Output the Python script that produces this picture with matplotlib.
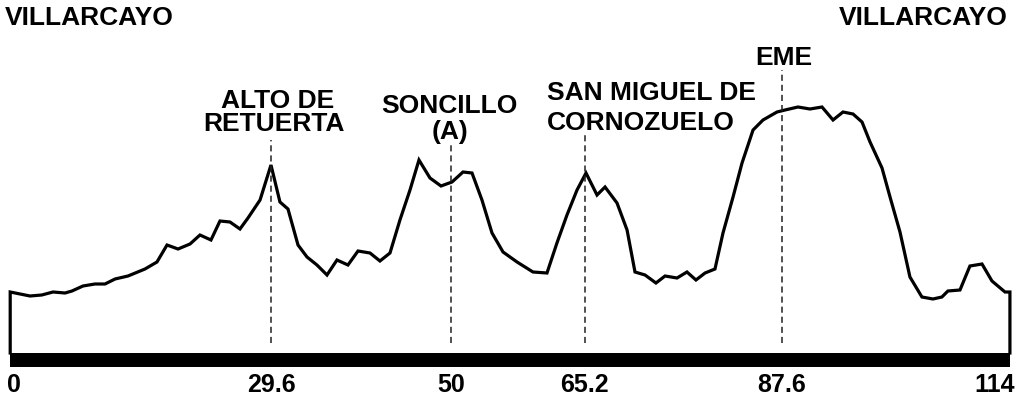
import matplotlib
matplotlib.use("Agg")
import matplotlib.pyplot as plt

# perfil: distancia (km) y altura relativa sobre la base
distancia = [0.0, 2.25, 3.58, 4.86, 6.22, 7.01, 8.26, 9.62, 10.76, 11.90, 13.37,
             15.30, 16.66, 17.80, 19.05, 20.41, 21.54, 22.79, 23.81, 24.95, 26.08,
             26.99, 28.36, 29.6, 30.62, 31.53, 32.67, 33.69, 34.82, 35.96, 37.09,
             38.34, 39.48, 40.84, 41.97, 43.11, 44.24, 45.38, 46.40, 47.65, 48.90,
             50.15, 51.40, 52.42, 53.55, 54.69, 55.94, 57.53, 59.34, 60.93, 62.06,
             63.20, 64.34, 65.36, 66.61, 67.52, 68.88, 70.02, 70.92, 72.06, 73.30,
             74.33, 75.69, 76.82, 77.84, 78.87, 80.00, 80.91, 82.05, 83.07, 84.32,
             85.45, 87.04, 87.95, 89.42, 90.78, 92.15, 93.40, 94.53, 95.67, 96.69,
             97.60, 98.96, 99.87, 101.0, 102.13, 103.49, 104.74, 105.76, 106.44,
             107.81, 108.94, 110.31, 111.44, 112.92, 113.48]
altura = [61, 57, 58, 61, 60, 62, 67, 69, 69, 74, 77,
          84, 91, 108, 104, 109, 118, 113, 132, 131, 124,
          135, 153, 188, 151, 144, 108, 96, 88, 78, 93,
          88, 102, 100, 92, 100, 133, 163, 193, 175, 167,
          171, 181, 180, 153, 120, 101, 91, 81, 80, 110,
          138, 163, 180, 158, 166, 150, 123, 81, 78, 70,
          77, 75, 81, 73, 80, 84, 120, 156, 190, 223,
          233, 241, 243, 246, 244, 246, 233, 241, 239, 231,
          211, 185, 156, 121, 76, 56, 54, 56, 62,
          63, 87, 89, 72, 61, 61]

km_ticks = [0, 29.6, 50, 65.2, 87.6, 114]
tick_labels = ["0", "29.6", "50", "65.2", "87.6", "114"]

puntos_km = [29.6, 50, 65.2, 87.6]
puntos_nombre = [["ALTO DE", "RETUERTA"], ["SONCILLO", "(A)"],
                 ["SAN MIGUEL DE", "CORNOZUELO"], ["EME"]]

FONT = dict(family="Liberation Sans", weight="bold", color="black")
FS = 19

fig = plt.figure(figsize=(10.22, 3.96), dpi=100)
ax = fig.add_axes([0, 0, 1, 1])
ax.set_xlim(-1.158, 114.85)
ax.set_ylim(-43, 353)
ax.axis("off")

# silueta del perfil, cerrada por los extremos
xs = [distancia[0]] + distancia + [distancia[-1]]
ys = [0] + altura + [0]
ax.plot(xs, ys, color="black", lw=2.3, solid_joinstyle="miter")

# barra negra de base
ax.fill_between([distancia[0], distancia[-1]], -14, 0, color="black", lw=0)

# lineas de referencia discontinuas
tops = [213, 210, 220, 283]
for km, top in zip(puntos_km, tops):
    ax.plot([km, km], [10, top], color="#222222", lw=1.1, ls=(0, (4, 2.6)))

# nombres de los puntos
ax.text(30.3, 245, puntos_nombre[0][0], ha="center", va="baseline", fontsize=FS, **FONT)
ax.text(29.9, 222, puntos_nombre[0][1], ha="center", va="baseline", fontsize=FS, **FONT)
ax.text(49.8, 240, puntos_nombre[1][0], ha="center", va="baseline", fontsize=FS, **FONT)
ax.text(49.9, 214, puntos_nombre[1][1], ha="center", va="baseline", fontsize=FS, **FONT)
ax.text(60.9, 253, puntos_nombre[2][0], ha="left", va="baseline", fontsize=FS, **FONT)
ax.text(60.9, 223, puntos_nombre[2][1], ha="left", va="baseline", fontsize=FS, **FONT)
ax.text(87.8, 288, puntos_nombre[3][0], ha="center", va="baseline", fontsize=FS, **FONT)

# extremos de la ruta
ax.text(-0.59, 328, "VILLARCAYO", ha="left", va="baseline", fontsize=FS, **FONT)
ax.text(113.26, 328, "VILLARCAYO", ha="right", va="baseline", fontsize=FS, **FONT)

# etiquetas de distancia
for i, (km, lbl) in enumerate(zip(km_ticks, tick_labels)):
    ha = "left" if i == 0 else ("right" if i == len(km_ticks) - 1 else "center")
    x = -0.4 if i == 0 else km
    ax.text(x, -39, lbl, ha=ha, va="baseline", fontsize=18, **FONT)

fig.savefig("out.png", dpi=100)
